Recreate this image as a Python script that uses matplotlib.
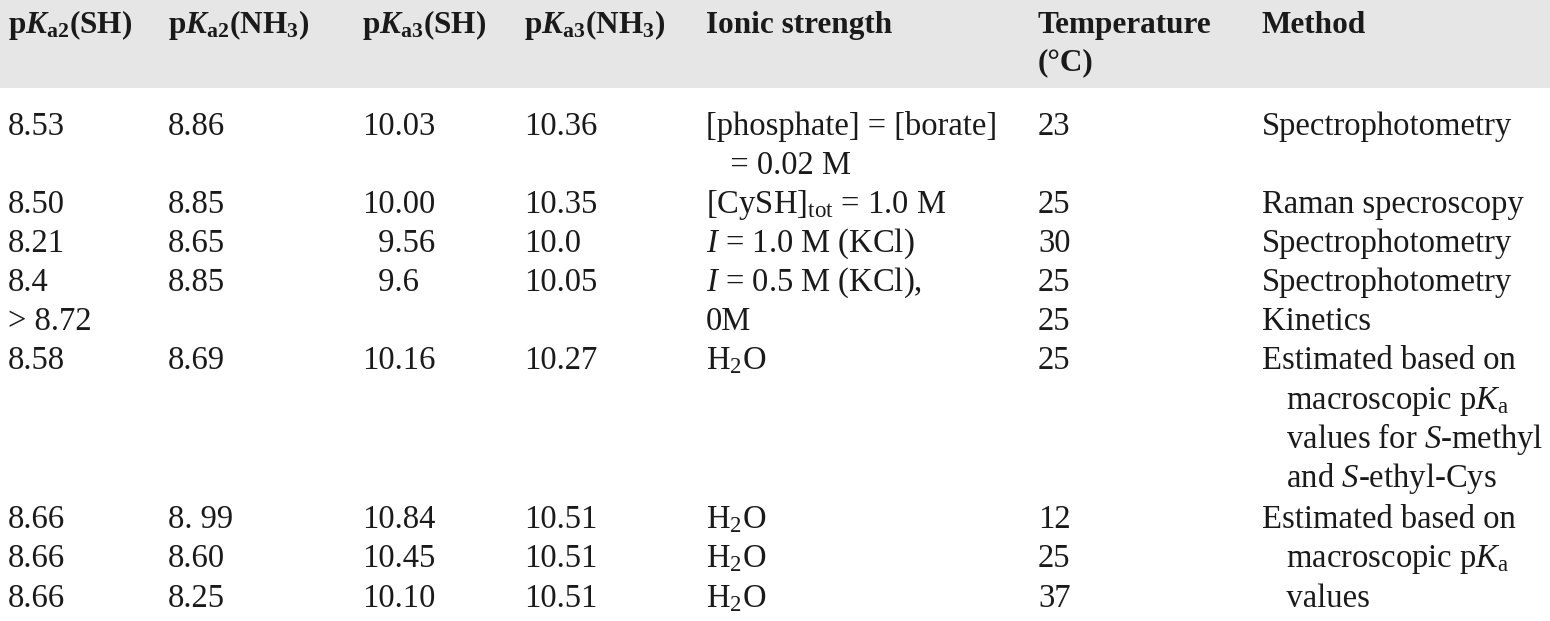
import matplotlib
matplotlib.use("Agg")
import matplotlib.pyplot as plt
from matplotlib.patches import Rectangle

plt.rcParams['font.family'] = ['Liberation Serif', 'DejaVu Serif']
plt.rcParams['mathtext.fontset'] = 'custom'
plt.rcParams['mathtext.rm'] = 'Liberation Serif'
plt.rcParams['mathtext.it'] = 'Liberation Serif:italic'
plt.rcParams['mathtext.bf'] = 'Liberation Serif:bold'
plt.rcParams['mathtext.bfit'] = 'Liberation Serif:italic:bold'

headers = [r"$\mathbf{p}\mathbfit{K}_{\mathbf{a2}}\mathbf{(SH)}$",
           r"$\mathbf{p}\mathbfit{K}_{\mathbf{a2}}\mathbf{(NH_3)}$",
           r"$\mathbf{p}\mathbfit{K}_{\mathbf{a3}}\mathbf{(SH)}$",
           r"$\mathbf{p}\mathbfit{K}_{\mathbf{a3}}\mathbf{(NH_3)}$",
           "Ionic strength", "Temperature\n(°C)", "Method"]

pka2_sh = ["8.53", "8.50", "8.21", "8.4", "> 8.72", "8.58", "8.66", "8.66", "8.66"]
pka2_nh3 = ["8.86", "8.85", "8.65", "8.85", "", "8.69", "8. 99", "8.60", "8.25"]
pka3_sh = ["10.03", "10.00", "  9.56", "  9.6", "", "10.16", "10.84", "10.45", "10.10"]
pka3_nh3 = ["10.36", "10.35", "10.0", "10.05", "", "10.27", "10.51", "10.51", "10.51"]
ionic = ["[phosphate] = [borate]\n   = 0.02 M", r"[CySH]$_{\mathrm{tot}}$ = 1.0 M",
         r"$I$ = 1.0 M (KCl)", r"$I$ = 0.5 M (KCl),", "0M",
         r"H$_2$O", r"H$_2$O", r"H$_2$O", r"H$_2$O"]
temps = ["23", "25", "30", "25", "25", "25", "12", "25", "37"]
methods = ["Spectrophotometry", "Raman specroscopy", "Spectrophotometry",
           "Spectrophotometry", "Kinetics",
           "Estimated based on\n   macroscopic p$K_{\\mathrm{a}}$\n   values for $S$-methyl\n   and $S$-ethyl-Cys",
           "Estimated based on", "   macroscopic p$K_{\\mathrm{a}}$", "   values"]

col_x = [8, 168, 362, 524, 706, 1038, 1262]
row_y = [126, 204, 243, 282, 321, 360, 519, 558, 598]
line_h = 39.5

fig = plt.figure(figsize=(15.5, 6.21), dpi=100)
ax = fig.add_axes([0, 0, 1, 1])
ax.set_xlim(0, 1550)
ax.set_ylim(621, 0)
ax.axis('off')
ax.add_patch(Rectangle((0, 0), 1550, 88, color='#e6e6e7', lw=0))

hfs = 22.5
fs = 23.5
for x, h in zip(col_x, headers):
    for i, part in enumerate(h.split("\n")):
        ax.text(x, 33 + i * 37, part, fontsize=hfs, fontweight='bold', va='baseline', ha='left',
                color='#1a1a1a')

cols = [pka2_sh, pka2_nh3, pka3_sh, pka3_nh3, ionic, temps, methods]
for x, col in zip(col_x, cols):
    for y, val in zip(row_y, col):
        for i, part in enumerate(val.split("\n")):
            ax.text(x, y + 9 + i * line_h, part, fontsize=fs, va='baseline', ha='left', color='#1a1a1a')

fig.savefig("out.png", dpi=100)
